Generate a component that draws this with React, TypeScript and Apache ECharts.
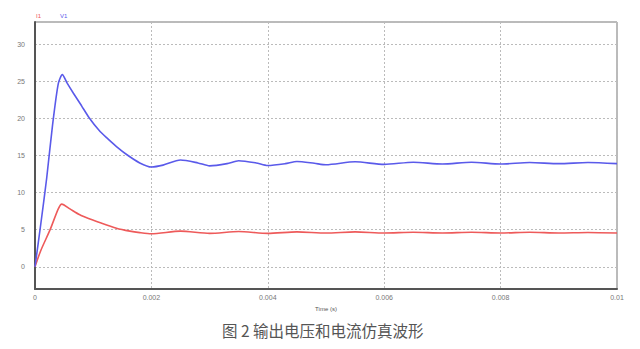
import React, { useEffect, useRef } from "react";
import * as echarts from "echarts";

const seriesNames = ["I1", "V1"];
const timeV1 = [0, 0.0001, 0.0002, 0.0003, 0.0004, 0.00047, 0.00055, 0.00066, 0.0008, 0.00093, 0.0011, 0.00123, 0.0014, 0.00158, 0.0018, 0.002, 0.0022, 0.0025, 0.0028, 0.003, 0.0033, 0.0035, 0.0038, 0.004, 0.0043, 0.0045, 0.0048, 0.005, 0.0055, 0.006, 0.0065, 0.007, 0.0075, 0.008, 0.0085, 0.009, 0.0095, 0.01];
const valuesV1 = [0, 5.8, 11.9, 19, 24.7, 25.9, 24.8, 23.4, 21.7, 20.1, 18.4, 17.4, 16.2, 15.1, 14.0, 13.45, 13.7, 14.4, 14.0, 13.6, 13.9, 14.3, 14.0, 13.65, 13.9, 14.2, 13.95, 13.75, 14.15, 13.8, 14.1, 13.85, 14.1, 13.85, 14.05, 13.9, 14.05, 13.9];
const timeI1 = [0, 0.0001, 0.00026, 0.0004, 0.00046, 0.0006, 0.00077, 0.00092, 0.00106, 0.0014, 0.00163, 0.0018, 0.002, 0.0025, 0.003, 0.0035, 0.004, 0.0045, 0.005, 0.0055, 0.006, 0.0065, 0.007, 0.0075, 0.008, 0.0085, 0.009, 0.0095, 0.01];
const valuesI1 = [0, 2.2, 5, 7.8, 8.45, 7.8, 7.0, 6.5, 6.1, 5.2, 4.8, 4.6, 4.45, 4.8, 4.5, 4.75, 4.5, 4.7, 4.55, 4.7, 4.55, 4.65, 4.55, 4.65, 4.55, 4.65, 4.55, 4.62, 4.55];
const xTicks = { min: 0, max: 0.01, interval: 0.002 };
const yRange = { min: -3, max: 33 };
const xTitle = "Time (s)";
const caption = "图 2 输出电压和电流仿真波形";

const colors = ["#ee5a5a", "#5a5aea"];

export default function App() {
  const ref = useRef<HTMLDivElement>(null);
  useEffect(() => {
    if (!ref.current) return;
    const chart = echarts.init(ref.current, null, { renderer: "svg" });
    const pairs = (t: number[], v: number[]) => t.map((x, i) => [x, v[i]]);
    chart.setOption({
      animation: false,
      backgroundColor: "#ffffff",
      grid: {
        left: 35, right: 23, top: 22, bottom: 60,
        show: true, borderColor: "#777", borderWidth: 1,
      },
      legend: {
        left: 26, top: 8, icon: "none", itemWidth: 0, itemHeight: 0, itemGap: 14,
        data: seriesNames.map((n, i) => ({ name: n, textStyle: { color: colors[i], fontSize: 6 } })),
        textStyle: { fontSize: 6, fontFamily: "Arial, Liberation Sans" },
      },
      xAxis: {
        type: "value",
        min: xTicks.min, max: xTicks.max, interval: xTicks.interval,
        name: xTitle, nameLocation: "middle", nameGap: 16,
        nameTextStyle: { fontSize: 6, color: "#555", fontFamily: "Liberation Sans" },
        axisLine: { show: true, onZero: false, lineStyle: { color: "#555", width: 2 } },
        axisTick: { show: false },
        axisLabel: { fontSize: 7, color: "#777", margin: 5, fontFamily: "Liberation Sans",
          formatter: (v: number) => String(Math.round(v * 1000) / 1000) },
        splitLine: { show: true, lineStyle: { color: "#bbb", type: [2, 2], width: 1 } },
      },
      yAxis: {
        type: "value",
        min: yRange.min, max: yRange.max,
        splitNumber: 7,
        axisLine: { show: true, onZero: false, lineStyle: { color: "#555", width: 2 } },
        axisTick: { show: false },
        axisLabel: { fontSize: 7, color: "#777", margin: 10, fontFamily: "Liberation Sans",
          showMinLabel: false, showMaxLabel: false },
        splitLine: { show: true, lineStyle: { color: "#bbb", type: [2, 2], width: 1 } },
      },
      graphic: [
        {
          type: "text", left: 222, top: 322,
          style: { text: caption, fontSize: 15.5, fill: "#555", fontFamily: "Noto Sans CJK SC" },
        },
      ],
      series: [
        {
          name: seriesNames[0], type: "line", data: pairs(timeI1, valuesI1),
          showSymbol: false, smooth: 0.25,
          lineStyle: { color: colors[0], width: 1.6 }, itemStyle: { color: colors[0] },
        },
        {
          name: seriesNames[1], type: "line", data: pairs(timeV1, valuesV1),
          showSymbol: false, smooth: 0.25,
          lineStyle: { color: colors[1], width: 1.6 }, itemStyle: { color: colors[1] },
        },
      ],
    });
    return () => chart.dispose();
  }, []);
  return <div ref={ref} style={{ position: "fixed", left: 0, top: 0, width: 640, height: 349 }} />;
}
